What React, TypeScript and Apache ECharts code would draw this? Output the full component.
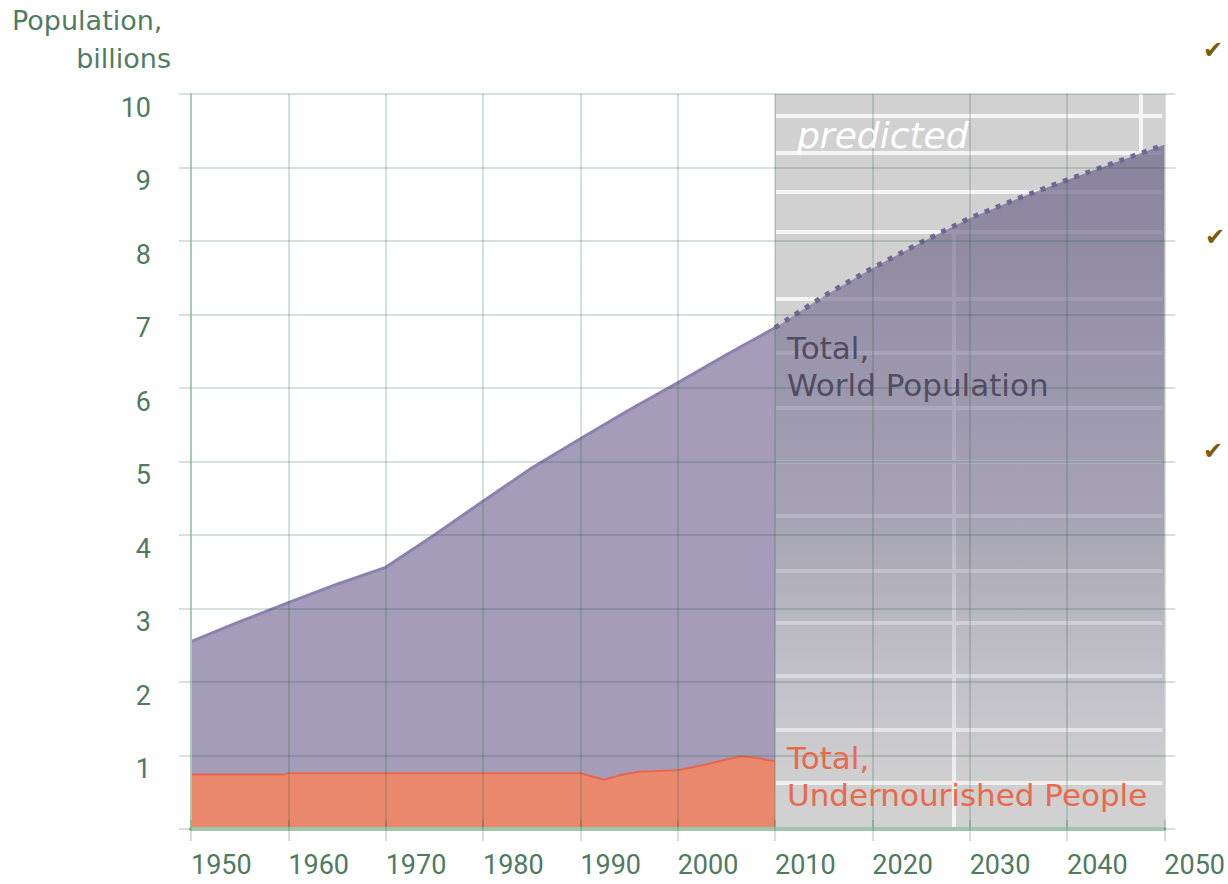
import React, { useEffect, useRef } from "react";
import * as echarts from "echarts";

// Historical world population (billions)
const histYears = [1950, 1955, 1960, 1965, 1970, 1975, 1980, 1985, 1990, 1995, 2000, 2005, 2010];
const histPop = [2.55, 2.82, 3.08, 3.33, 3.56, 4.0, 4.46, 4.91, 5.31, 5.7, 6.07, 6.45, 6.82];
// Predicted world population (billions)
const predYears = [2010, 2015, 2020, 2025, 2030, 2035, 2040, 2045, 2050];
const predPop = [6.82, 7.25, 7.63, 7.98, 8.31, 8.58, 8.83, 9.07, 9.31];
// Undernourished people (billions)
const hungerYears = [1950, 1959.5, 1960, 1970, 1980, 1989, 1990, 1992.4, 1994, 1996, 2000, 2003, 2006.4, 2008, 2010];
const hungerVals = [0.74, 0.74, 0.76, 0.76, 0.76, 0.76, 0.76, 0.67, 0.73, 0.78, 0.8, 0.88, 0.99, 0.97, 0.92];
// Decorative texture of the "predicted" panel (value levels)
const textureLevels = [9.71, 9.2, 8.67, 8.12, 7.22, 6.48, 5.73, 5.0, 4.26, 3.51, 2.8, 2.08, 1.35, 0.63];
const predStart = 2010;
const predEnd = 2050;

const gridColor = "rgba(20,90,50,0.18)";
const labelColor = "#4e7b5f";

export default function App() {
  const ref = useRef<HTMLDivElement>(null);
  useEffect(() => {
    if (!ref.current) return;
    const chart = echarts.init(ref.current, undefined, { renderer: "svg" });
    const pair = (xs: number[], ys: number[]) => xs.map((x, i) => [x, ys[i]]);
    const check = (x: number, y: number) => ({
      type: "text",
      x,
      y,
      z: 100,
      style: { text: "✔", fill: "#7b5c0c", font: "24px 'DejaVu Sans'" },
    });
    const option: any = {
      animation: false,
      backgroundColor: "#ffffff",
      grid: { left: 191, right: 62, top: 94, bottom: 55 },
      xAxis: [
        {
          type: "value",
          min: 1950,
          max: 2050,
          interval: 10,
          z: 6,
          axisLine: { show: true, onZero: false, lineStyle: { color: "#9fc6ab", width: 4 } },
          axisTick: { show: true, length: 12, lineStyle: { color: gridColor, width: 2 } },
          axisLabel: {
            color: labelColor,
            fontSize: 27,
            fontFamily: "Roboto",
            margin: 22,
            align: "left",
            formatter: (v: number) => String(v),
          },
          splitLine: { show: true, lineStyle: { color: gridColor, width: 2 } },
        },
        {
          type: "value",
          position: "top",
          min: 1950,
          max: 2050,
          interval: 10,
          z: 6,
          axisLine: { show: false },
          axisTick: { show: true, length: 9, lineStyle: { color: gridColor, width: 2 } },
          axisLabel: { show: false },
          splitLine: { show: false },
        },
      ],
      yAxis: [
        {
          type: "value",
          min: 0,
          max: 10,
          interval: 1,
          z: 6,
          axisLine: { show: true, onZero: false, lineStyle: { color: "#a3cdb2", width: 2 } },
          axisTick: { show: true, length: 12, lineStyle: { color: gridColor, width: 2 } },
          axisLabel: {
            color: labelColor,
            fontSize: 27,
            fontFamily: "Roboto",
            margin: 40,
            verticalAlign: "top",
            formatter: (v: number) => (v === 0 ? "" : String(v)),
          },
          splitLine: { show: true, lineStyle: { color: gridColor, width: 2 } },
        },
        {
          type: "value",
          position: "right",
          min: 0,
          max: 10,
          interval: 1,
          z: 6,
          axisLine: { show: false },
          axisTick: { show: true, length: 11, lineStyle: { color: gridColor, width: 2 } },
          axisLabel: { show: false },
          splitLine: { show: false },
        },
      ],
      series: [
        {
          name: "predictedPanel",
          type: "line",
          data: [[predStart, 0]],
          symbol: "none",
          lineStyle: { opacity: 0 },
          silent: true,
          z: 1,
          markArea: {
            silent: true,
            z: 1,
            itemStyle: { color: "#d1d1d1" },
            data: [[{ coord: [predStart, 0] }, { coord: [predEnd, 10] }]],
          },
          markLine: {
            silent: true,
            z: 2,
            symbol: ["none", "none"],
            label: { show: false },
            lineStyle: { color: "#f5f5f5", width: 4, type: "solid" },
            data: [
              ...textureLevels.map((v) => [{ coord: [predStart + 0.1, v] }, { coord: [predEnd - 0.2, v] }]),
              [{ coord: [2028.4, 0] }, { coord: [2028.4, 8.12] }],
              [{ coord: [2047.6, 9.15] }, { coord: [2047.6, 10] }],
            ],
          },
        },
        {
          name: "Total, World Population",
          type: "line",
          data: pair(histYears, histPop),
          symbol: "none",
          z: 3,
          lineStyle: { color: "#8c82ae", width: 3 },
          areaStyle: { color: "#a59cba", opacity: 1 },
        },
        {
          name: "Total, Undernourished People",
          type: "line",
          data: pair(hungerYears, hungerVals),
          symbol: "none",
          z: 3,
          lineStyle: { color: "#e8674a", width: 2 },
          areaStyle: { color: "#e9886c", opacity: 1 },
        },
        {
          name: "Predicted World Population",
          type: "line",
          data: pair(predYears, predPop),
          symbol: "none",
          z: 4,
          lineStyle: { color: "#6f6890", width: 5, type: [5, 7] },
          areaStyle: {
            opacity: 1,
            color: new echarts.graphic.LinearGradient(0, 0, 0, 1, [
              { offset: 0, color: "rgba(112,104,140,0.76)" },
              { offset: 0.55, color: "rgba(132,126,156,0.55)" },
              { offset: 0.85, color: "rgba(165,161,182,0.22)" },
              { offset: 1, color: "rgba(209,209,209,0)" },
            ]),
          },
        },
      ],
      graphic: [
        {
          type: "text",
          x: 12,
          y: 1,
          z: 100,
          style: { text: "Population,", fill: "#4f7d62", font: "27px 'DejaVu Sans'", lineHeight: 38 },
        },
        {
          type: "text",
          x: 171,
          y: 39,
          z: 100,
          style: { text: "billions", fill: "#4f7d62", font: "27px 'DejaVu Sans'", lineHeight: 38, align: "right" },
        },
        {
          type: "text",
          x: 797,
          y: 117,
          z: 100,
          style: { text: "predicted", fill: "#ffffff", font: "italic 36px 'DejaVu Sans'" },
        },
        {
          type: "text",
          x: 787,
          y: 329,
          z: 100,
          style: {
            text: "Total,\nWorld Population",
            fill: "#524c63",
            font: "31px 'DejaVu Sans'",
            lineHeight: 37,
          },
        },
        {
          type: "text",
          x: 787,
          y: 739,
          z: 100,
          style: {
            text: "Total,\nUndernourished People",
            fill: "#e9694b",
            font: "31px 'DejaVu Sans'",
            lineHeight: 37,
          },
        },
        check(1203, 38),
        check(1205, 225),
        check(1203, 439),
      ],
    };
    chart.setOption(option);
    return () => chart.dispose();
  }, []);
  return (
    <div
      ref={ref}
      style={{ position: "fixed", left: 0, top: 0, width: 1228, height: 884, background: "#fff" }}
    />
  );
}
